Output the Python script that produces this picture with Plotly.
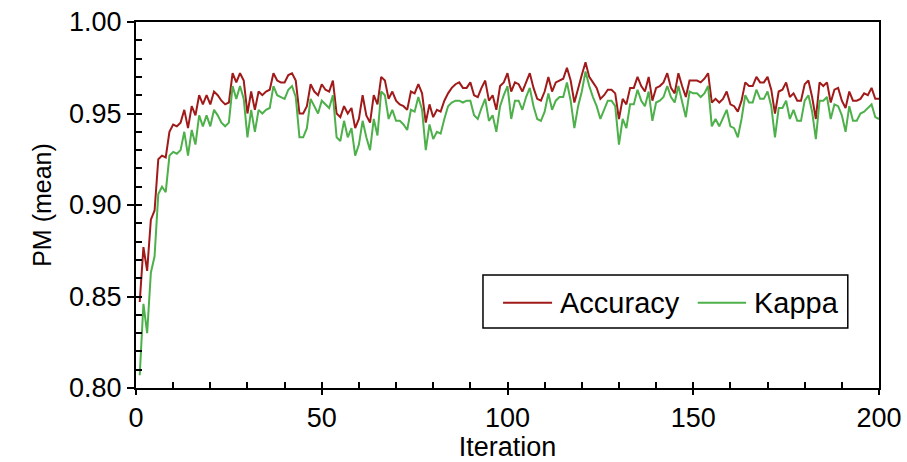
import plotly.graph_objects as go

iterations = list(range(1, 201))

accuracy = [
    0.847, 0.877, 0.864, 0.892, 0.897, 0.925, 0.927, 0.926, 0.940, 0.944,
    0.943, 0.945, 0.952, 0.942, 0.954, 0.949, 0.960, 0.955, 0.960, 0.955,
    0.962, 0.960, 0.957, 0.955, 0.956, 0.972, 0.967, 0.972, 0.968, 0.950,
    0.962, 0.952, 0.962, 0.960, 0.962, 0.963, 0.972, 0.968, 0.967, 0.967,
    0.971, 0.972, 0.968, 0.950, 0.950, 0.954, 0.966, 0.962, 0.960, 0.966,
    0.963, 0.962, 0.968, 0.950, 0.948, 0.954, 0.950, 0.953, 0.942, 0.947,
    0.960, 0.949, 0.945, 0.960, 0.955, 0.970, 0.968, 0.958, 0.962, 0.957,
    0.955, 0.954, 0.952, 0.962, 0.961, 0.966, 0.961, 0.945, 0.955, 0.948,
    0.952, 0.951, 0.957, 0.961, 0.964, 0.966, 0.967, 0.964, 0.964, 0.967,
    0.960, 0.959, 0.964, 0.968, 0.957, 0.960, 0.952, 0.965, 0.967, 0.972,
    0.962, 0.967, 0.966, 0.962, 0.967, 0.972, 0.964, 0.958, 0.957, 0.962,
    0.970, 0.962, 0.967, 0.968, 0.969, 0.975, 0.968, 0.956, 0.964, 0.971,
    0.978, 0.970, 0.967, 0.964, 0.958, 0.960, 0.963, 0.963, 0.961, 0.947,
    0.958, 0.955, 0.964, 0.964, 0.970, 0.965, 0.962, 0.970, 0.957, 0.964,
    0.965, 0.967, 0.972, 0.964, 0.961, 0.972, 0.965, 0.959, 0.968, 0.968,
    0.968, 0.967, 0.969, 0.972, 0.956, 0.958, 0.956, 0.958, 0.962, 0.955,
    0.954, 0.951, 0.957, 0.967, 0.965, 0.965, 0.970, 0.967, 0.967, 0.970,
    0.963, 0.950, 0.962, 0.963, 0.967, 0.959, 0.961, 0.957, 0.957, 0.966,
    0.968, 0.959, 0.947, 0.967, 0.965, 0.967, 0.956, 0.963, 0.964, 0.957,
    0.953, 0.962, 0.957, 0.957, 0.958, 0.961, 0.960, 0.964, 0.958, 0.958,
]

kappa = [
    0.807, 0.846, 0.830, 0.863, 0.872, 0.906, 0.910, 0.907, 0.927, 0.929,
    0.928, 0.930, 0.940, 0.927, 0.941, 0.933, 0.949, 0.943, 0.949, 0.943,
    0.952, 0.949, 0.945, 0.943, 0.945, 0.965, 0.958, 0.965, 0.958, 0.937,
    0.952, 0.940, 0.952, 0.950, 0.952, 0.953, 0.965, 0.960, 0.959, 0.958,
    0.963, 0.965, 0.959, 0.937, 0.937, 0.942, 0.958, 0.954, 0.950, 0.957,
    0.955, 0.953, 0.960, 0.937, 0.935, 0.946, 0.937, 0.942, 0.927, 0.933,
    0.946, 0.937, 0.930, 0.947, 0.938, 0.962, 0.960, 0.947, 0.952, 0.946,
    0.946, 0.944, 0.941, 0.952, 0.951, 0.959, 0.952, 0.930, 0.944, 0.936,
    0.940, 0.939, 0.947, 0.954, 0.956, 0.957, 0.957, 0.956, 0.957, 0.957,
    0.949, 0.947, 0.953, 0.958, 0.946, 0.949, 0.940, 0.954, 0.960, 0.965,
    0.947, 0.957, 0.957, 0.952, 0.959, 0.964, 0.954, 0.947, 0.946, 0.951,
    0.961, 0.952, 0.957, 0.959, 0.959, 0.967, 0.957, 0.942, 0.954, 0.962,
    0.973, 0.965, 0.959, 0.954, 0.947, 0.952, 0.957, 0.957, 0.954, 0.933,
    0.947, 0.942, 0.955, 0.955, 0.963, 0.957, 0.954, 0.962, 0.946, 0.956,
    0.957, 0.959, 0.965, 0.959, 0.956, 0.965, 0.957, 0.948, 0.962, 0.961,
    0.961, 0.959, 0.961, 0.965, 0.943, 0.947, 0.943, 0.948, 0.952, 0.943,
    0.942, 0.937, 0.947, 0.960, 0.956, 0.956, 0.963, 0.958, 0.958, 0.962,
    0.954, 0.937, 0.953, 0.953, 0.957, 0.947, 0.952, 0.946, 0.946, 0.957,
    0.960, 0.951, 0.936, 0.957, 0.957, 0.959, 0.947, 0.955, 0.954, 0.949,
    0.940, 0.954, 0.946, 0.946, 0.950, 0.951, 0.953, 0.955, 0.948, 0.947,
]

series_names = ["Accuracy", "Kappa"]
y_ticks = [0.80, 0.85, 0.90, 0.95, 1.00]
x_ticks = [0, 50, 100, 150, 200]

RED = "#A01A1A"
GREEN = "#4DB04A"
colors = [RED, GREEN]
FONT = "Liberation Sans, Arial, sans-serif"

fig = go.Figure()
for name, vals, col in zip(series_names, [accuracy, kappa], colors):
    fig.add_trace(go.Scatter(x=iterations, y=vals, mode="lines", name=name,
                             line=dict(color=col, width=2), showlegend=False))
# carrier trace so the overlay axes (minor inside ticks) are drawn
fig.add_trace(go.Scatter(x=[None], y=[None], xaxis="x2", yaxis="y2",
                         showlegend=False, hoverinfo="skip", mode="lines"))

# Legend box drawn in paper coordinates (frame-style legend like the original)
shapes = [dict(type="rect", xref="paper", yref="paper", x0=0.467, x1=0.958,
               y0=0.164, y1=0.309, line=dict(color="black", width=1.5),
               fillcolor="white", layer="above")]
annotations = []
legend_y = 0.233
line_x = [(0.494, 0.560), (0.756, 0.821)]
text_x = [0.568, 0.829]
for (x0, x1), tx, name, col in zip(line_x, text_x, series_names, colors):
    shapes.append(dict(type="line", xref="paper", yref="paper", x0=x0, x1=x1,
                       y0=legend_y, y1=legend_y, line=dict(color=col, width=2),
                       layer="above"))
    annotations.append(dict(text=name, xref="paper", yref="paper", x=tx, y=legend_y,
                            xanchor="left", yanchor="middle", showarrow=False,
                            font=dict(family=FONT, size=29, color="black")))

fig.update_layout(
    width=907, height=462,
    margin=dict(l=136, r=28, t=22, b=74, autoexpand=False),
    paper_bgcolor="white", plot_bgcolor="white",
    font=dict(family=FONT, size=27, color="black"),
    showlegend=False,
    shapes=shapes,
    annotations=annotations,
    xaxis=dict(
        range=[0, 200], tickvals=x_ticks, ticks="outside", ticklen=5, tickwidth=1.5,
        tickcolor="black", showline=True, linecolor="black", linewidth=2, mirror=True,
        showgrid=False, zeroline=False, automargin=False,
        title=dict(text="Iteration", standoff=8, font=dict(size=27)),
        tickfont=dict(size=27),
    ),
    yaxis=dict(
        range=[0.80, 1.00], tickvals=y_ticks, tickformat=".2f", ticks="outside",
        ticklen=7, tickwidth=1.5, tickcolor="black", showline=True,
        linecolor="black", linewidth=2, mirror=True, showgrid=False, zeroline=False,
        automargin=False,
        title=dict(text="PM (mean)", standoff=10, font=dict(size=25)),
        tickfont=dict(size=27),
    ),
    xaxis2=dict(
        overlaying="x", anchor="y", side="bottom", range=[0, 200], dtick=10, tick0=0,
        ticks="inside", ticklen=6, tickwidth=1.5, tickcolor="black",
        showticklabels=False, showline=False, showgrid=False, zeroline=False,
        automargin=False,
    ),
    yaxis2=dict(
        overlaying="y", anchor="x", side="left", range=[0.80, 1.00], dtick=0.01,
        tick0=0.80, ticks="inside", ticklen=6, tickwidth=1.5, tickcolor="black",
        showticklabels=False, showline=False, showgrid=False, zeroline=False,
        automargin=False,
    ),
)

fig.write_html("out.html")
